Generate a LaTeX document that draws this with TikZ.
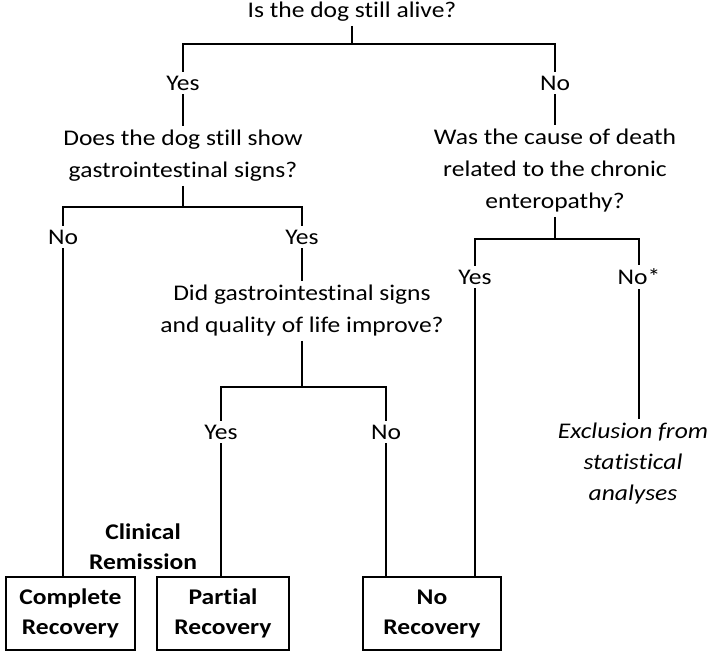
\documentclass[tikz,border=0pt]{standalone}
\usepackage{fontspec}
\setmainfont{Carlito}[Ligatures=NoCommon, FakeStretch=1.14]
\usetikzlibrary{positioning}

\begin{document}
\begin{tikzpicture}[x=1pt, y=-1pt,
		every node/.style={font=\fontsize{22.4}{32}\selectfont, inner sep=4pt},
		question/.style={align=center},
		outcome/.style={draw, line width=2.2pt, align=center, font=\fontsize{22.4}{30}\selectfont\bfseries, minimum height=73pt, inner sep=0pt},
		link/.style={line width=1.3pt}]
				\useasboundingbox (0,0) rectangle (709,652);
				% questions
				\node[question] (alive) at (352,12) {Is the dog still alive?};
				\node[question] (signs) at (183,156) {Does the dog still show\\gastrointestinal signs?};
				\node[question] (death) at (555,171) {Was the cause of death\\related to the chronic\\enteropathy?};
				\node[question] (improve) at (302,311) {Did gastrointestinal signs\\and quality of life improve?};
				
				% answers
				\node (aliveyes) at (183,83) {Yes};
				\node (aliveno) at (555,83) {No};
				\node (signsno) at (63,237) {No};
				\node (signsyes) at (302,237) {Yes};
				\node (deathyes) at (475,277) {Yes};
				\node (deathno) at (639,277) {No*};
				\node (improveyes) at (221,432) {Yes};
				\node (improveno) at (386,432) {No};
				
				% outcomes
				\node[question, font=\fontsize{22.4}{31}\selectfont\itshape] (excl) at (633,464) {Exclusion from\\statistical\\analyses};
				\node[question, font=\fontsize{22.4}{30}\selectfont\bfseries] (remission) at (143,547) {Clinical\\Remission};
				\node[outcome, minimum width=129pt] (complete) at (70.5,613.5) {Complete\\Recovery};
				\node[outcome, minimum width=132pt] (partial) at (223,613.5) {Partial\\Recovery};
				\node[outcome, minimum width=138pt] (norec) at (432,613.5) {No\\Recovery};
				
				% branch points
				\coordinate (b1) at (352,44);
				\coordinate (b2) at (183,207);
				\coordinate (b3) at (555,239);
				\coordinate (b4) at (302,387);
				
				\draw[link] (alive) -- (b1);
				\draw[link] (aliveyes) |- (b1) -| (aliveno);
				\draw[link] (aliveyes) -- (signs);
				\draw[link] (aliveno) -- (death);
				\draw[link] (signs) -- (b2);
				\draw[link] (signsno) |- (b2) -| (signsyes);
				\draw[link] (death) -- (b3);
				\draw[link] (deathyes) |- (b3) -| (deathno);
				\draw[link] (signsyes) -- (improve);
				\draw[link] (improve) -- (b4);
				\draw[link] (improveyes) |- (b4) -| (improveno);
				\draw[link] (deathno) -- (deathno |- excl.north);
				\draw[link] (signsno) -- (signsno |- complete.north);
				\draw[link] (improveyes) -- (improveyes |- partial.north);
				\draw[link] (improveno) -- (improveno |- norec.north);
				\draw[link] (deathyes) -- (deathyes |- norec.north);
			\end{tikzpicture}
\end{document}
